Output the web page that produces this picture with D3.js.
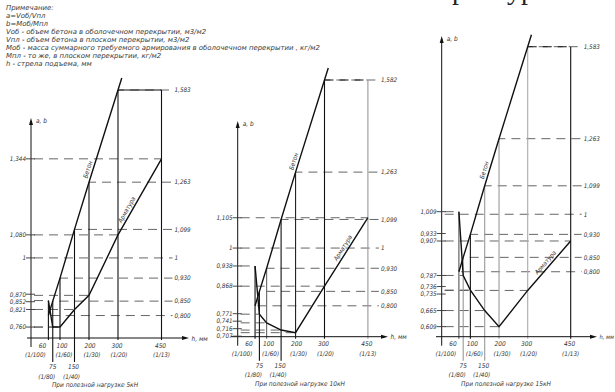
<!DOCTYPE html>
<html><head><meta charset="utf-8">
<script src="https://cdn.jsdelivr.net/npm/d3@7"></script>
<style>
html,body{margin:0;padding:0;background:#fff;}
svg text{font-family:"DejaVu Sans Condensed","DejaVu Sans",sans-serif;font-style:italic;fill:#333;}
</style></head><body>
<svg id="c" width="615" height="392"></svg>
<script>
// ---------- data ----------
const hValues = [60, 75, 100, 150, 200, 300, 450];
const hRatios = ["(1/100)", "(1/80)", "(1/60)", "(1/40)", "(1/30)", "(1/20)", "(1/13)"];
const loadLabels = ["При полезной нагрузке 5кН", "При полезной нагрузке 10кН", "При полезной нагрузке 15кН"];
const seriesNames = ["Бетон", "Арматура"];
// a = Vоб/Vпл (concrete) for h = 60..300
const concrete5  = [0.800, 0.850, 0.930, 1.099, 1.263, 1.583];
const concrete10 = [0.800, 0.850, 0.930, 1.099, 1.263, 1.582];
const concrete15 = [0.800, 0.850, 0.930, 1.099, 1.263, 1.583];
// b = Mоб/Mпл (reinforcement) for h = 60..450
const rebar5  = [0.852, 0.760, 0.760, 0.821, 0.870, 1.080, 1.344];
const rebar10 = [0.938, 0.771, 0.741, 0.716, 0.707, 0.868, 1.105];
const rebar15 = [1.009, 0.787, 0.736, 0.665, 0.609, 0.735, 0.907];
// tick labels
const leftTicks5  = [1.344, 1.080, 1.000, 0.870, 0.852, 0.821, 0.760];
const leftTicks10 = [1.105, 1.000, 0.938, 0.868, 0.771, 0.741, 0.716, 0.707];
const leftTicks15 = [1.009, 0.933, 0.907, 0.787, 0.736, 0.735, 0.665, 0.609];
const rightTicks5  = [1.583, 1.263, 1.099, 1, 0.930, 0.850, 0.800];
const rightTicks10 = [1.582, 1.263, 1.099, 1, 0.930, 0.850, 0.800];
const rightTicks15 = [1.583, 1.263, 1.099, 1, 0.930, 0.850, 0.800];
// value range covered between x-axis and the top reference line
const yDomain5  = [0.722, 1.583];
const yDomain10 = [0.693, 1.582];
const yDomain15 = [0.574, 1.583];
const notes = [
  "Примечание:",
  "a=Vоб/Vпл",
  "b=Mоб/Mпл",
  "Vоб - объем бетона в оболочечном перекрытии, м3/м2",
  "Vпл - объем бетона в плоском перекрытии, м3/м2",
  "Mоб - масса суммарного требуемого армирования в оболочечном перекрытии , кг/м2",
  "Mпл - то же, в плоском перекрытии, кг/м2",
  "h - стрела подъема, мм"
];

// ---------- drawing ----------
const svg = d3.select("#c");
const fmt = v => v === 1 ? "1" : d3.format(".3f")(v).replace(".", ",");

// notes (stretched horizontally like the wide drafting font)
const notesG = svg.append("g");
const noteTexts = notesG.selectAll("text").data(notes).join("text")
  .attr("x", 6).attr("y", (d, i) => 10.5 + i * 8)
  .attr("font-size", 6.8).style("fill", "#3a3a3a").text(d => d);
const maxW = d3.max(noteTexts.nodes(), n => n.getComputedTextLength());
const sx = 314 / maxW;
notesG.attr("transform", `translate(6,0) scale(${sx},1) translate(-6,0)`);

// clipped title fragment at the top
svg.append("text").attr("x", 452).attr("y", -1).attr("font-size", 28)
  .style("font-family", "'Liberation Serif',serif").style("font-style", "normal").style("fill", "#222").text("р");
svg.append("text").attr("x", 507).attr("y", -1).attr("font-size", 28)
  .style("font-family", "'Liberation Serif',serif").style("font-style", "normal").style("fill", "#222").text("ур");

function arrow(g, x, y, dir) {
  const p = dir === "up"
    ? [[x, y], [x - 2, y + 7], [x + 2, y + 7]]
    : [[x, y], [x - 7, y - 2], [x - 7, y + 2]];
  g.append("path").attr("d", d3.line()(p) + "Z").attr("fill", "#111");
}

function panel(cfg) {
  const g = svg.append("g");
  const x = d3.scaleLinear().domain([0, 450]).range([cfg.x0, cfg.x0 + cfg.xw]);
  const y = d3.scaleLinear().domain(cfg.yDomain).range([cfg.axisY, cfg.yTop]);
  const conc = cfg.concrete, reb = cfg.rebar;
  const cap = conc[conc.length - 1];
  const concAt = i => i < conc.length ? conc[i] : cap;
  const rightX = x(450) + 11;
  const dash = "9,6";

  // dashed reference lines (reinforcement, to the left axis)
  reb.forEach((v, i) => {
    g.append("line").attr("x1", cfg.x0 + 3).attr("x2", x(hValues[i])).attr("y1", y(v)).attr("y2", y(v))
      .attr("stroke", "#555").attr("stroke-width", 0.9).attr("stroke-dasharray", dash);
  });
  // dashed reference lines (concrete, to the right labels)
  conc.forEach((v, i) => {
    g.append("line").attr("x1", x(hValues[i])).attr("x2", rightX).attr("y1", y(v)).attr("y2", y(v))
      .attr("stroke", "#555").attr("stroke-width", 0.9).attr("stroke-dasharray", dash)
      .attr("stroke-dashoffset", -(x(hValues[i]) - cfg.x0) % 15);
  });
  // unit line
  g.append("line").attr("x1", cfg.x0 + 3).attr("x2", rightX).attr("y1", y(1)).attr("y2", y(1))
    .attr("stroke", "#555").attr("stroke-width", 0.9).attr("stroke-dasharray", dash);

  // top connector from h=300 to h=450
  g.append("line").attr("x1", x(300)).attr("x2", x(450)).attr("y1", y(cap)).attr("y2", y(cap))
    .attr("stroke", "#111").attr("stroke-width", 1.1).attr("stroke-dasharray", cfg.capSolid ? null : dash);

  // verticals at each h
  hValues.forEach((h, i) => {
    const top = Math.max(concAt(i), reb[i]);
    const ext = (h === 75 || h === 150) ? 24 : 2;
    g.append("line").attr("x1", x(h)).attr("x2", x(h)).attr("y1", y(top)).attr("y2", cfg.axisY + ext)
      .attr("stroke", cfg.vColors[i]).attr("stroke-width", 1.1);
  });

  // axes
  g.append("line").attr("x1", cfg.x0).attr("x2", cfg.x0).attr("y1", cfg.axisY + 9).attr("y2", cfg.yAxisTop + 3)
    .attr("stroke", "#111").attr("stroke-width", 1);
  arrow(g, cfg.x0, cfg.yAxisTop, "up");
  g.append("line").attr("x1", cfg.xAxisStart).attr("x2", cfg.xAxisEnd - 3).attr("y1", cfg.axisY).attr("y2", cfg.axisY)
    .attr("stroke", "#111").attr("stroke-width", 1);
  arrow(g, cfg.xAxisEnd, cfg.axisY, "right");
  g.append("text").attr("x", cfg.x0 + 5).attr("y", cfg.yAxisTop + 5).attr("font-size", 6.5).text("a, b");
  g.append("text").attr("x", cfg.xAxisEnd + 2.5).attr("y", cfg.axisY + 2.5).attr("font-size", cfg.hSize || 6.5).text("h, мм");

  // series lines
  const line = d3.line().x(d => x(d[0])).y(d => y(d[1]));
  const concPts = conc.map((v, i) => [hValues[i], v]);
  const n = concPts.length;
  const last = concPts[n - 1], prev = concPts[n - 2];
  const ext = 0.13;
  const concExt = concPts.concat([[last[0] + (last[0] - prev[0]) * ext, last[1] + (last[1] - prev[1]) * ext]]);
  g.append("path").attr("d", line(concExt)).attr("fill", "none").attr("stroke", "#111").attr("stroke-width", 1.4);
  const rebPts = reb.map((v, i) => [hValues[i], v]);
  g.append("path").attr("d", line(rebPts)).attr("fill", "none").attr("stroke", "#111").attr("stroke-width", 1.4);

  // series labels along segments
  function segLabel(pts, seg, t, txt) {
    const p0 = [x(pts[seg][0]), y(pts[seg][1])], p1 = [x(pts[seg + 1][0]), y(pts[seg + 1][1])];
    const dx = p1[0] - p0[0], dy = p1[1] - p0[1], L = Math.hypot(dx, dy);
    const px = p0[0] + dx * t + (dy / L) * 5, py = p0[1] + dy * t + (-dx / L) * 5;
    const ang = Math.atan2(dy, dx) * 180 / Math.PI;
    g.append("text").attr("transform", `translate(${px},${py}) rotate(${ang})`)
      .attr("text-anchor", "middle").attr("dy", "0.35em").attr("font-size", 6.3).text(txt);
  }
  segLabel(concPts, cfg.concLabel[0], cfg.concLabel[1], seriesNames[0]);
  segLabel(rebPts, cfg.rebLabel[0], cfg.rebLabel[1], seriesNames[1]);

  // left tick labels with simple de-overlapping
  const items = cfg.leftTicks.map(v => ({ v, y: y(v) })).sort((a, b) => a.y - b.y);
  for (let k = 0; k < 40; k++) {
    for (let j = 1; j < items.length; j++) {
      const gap = items[j].y - items[j - 1].y;
      if (gap < 7.5) { const d = (7.5 - gap) / 2; items[j].y += d; items[j - 1].y -= d; }
    }
  }
  items.forEach(it => {
    g.append("line").attr("x1", cfg.x0 - 5).attr("x2", cfg.x0 + 4).attr("y1", it.y).attr("y2", it.y)
      .attr("stroke", "#333").attr("stroke-width", 0.9);
    g.append("text").attr("x", cfg.x0 - 5).attr("y", it.y + 2.3).attr("text-anchor", "end")
      .attr("font-size", 6.3).text(fmt(it.v));
  });
  // right tick labels
  cfg.rightTicks.forEach(v => {
    g.append("text").attr("x", rightX + 2).attr("y", y(v) + 2.3).attr("font-size", 6.3).text(fmt(v));
  });

  // x tick labels
  const upper = { 60: [-6, -13], 100: [2, 4], 200: [1, 3], 300: [-1, 1], 450: [-1, 0] };
  const lower = { 75: [0, -6], 150: [-1, -3] };
  hValues.forEach((h, i) => {
    const u = upper[h], l = lower[h];
    if (u) {
      g.append("text").attr("x", x(h) + u[0]).attr("y", cfg.axisY + 9.5).attr("text-anchor", "middle").attr("font-size", 6.5).text(h);
      g.append("text").attr("x", x(h) + u[1]).attr("y", cfg.axisY + 19).attr("text-anchor", "middle").attr("font-size", 6.3).text(hRatios[i]);
    } else if (l) {
      g.append("text").attr("x", x(h) + l[0]).attr("y", cfg.axisY + 31).attr("text-anchor", "middle").attr("font-size", 6.5).text(h);
      g.append("text").attr("x", x(h) + l[1]).attr("y", cfg.axisY + 40.5).attr("text-anchor", "middle").attr("font-size", 6.3).text(hRatios[i]);
    }
  });
  // caption
  g.append("text").attr("x", cfg.capX).attr("y", cfg.axisY + 49).attr("text-anchor", "middle")
    .attr("font-size", 6.5).text(cfg.caption);
}

panel({
  x0: 31, xw: 130.5, axisY: 338, yTop: 90, yAxisTop: 118, xAxisStart: 27, xAxisEnd: 189,
  yDomain: yDomain5, concrete: concrete5, rebar: rebar5, leftTicks: leftTicks5, rightTicks: rightTicks5,
  vColors: ["#111", "#111", "#111", "#111", "#111", "#111", "#111"], capSolid: true,
  concLabel: [4, 0.12], rebLabel: [5, 0.3], capX: 95, caption: loadLabels[0]
});
panel({
  x0: 237.7, xw: 130.2, axisY: 336.7, yTop: 80, yAxisTop: 121, xAxisStart: 231, xAxisEnd: 388,
  yDomain: yDomain10, concrete: concrete10, rebar: rebar10, leftTicks: leftTicks10, rightTicks: rightTicks10,
  vColors: ["#111", "#111", "#666", "#111", "#222", "#111", "#999"], capSolid: false,
  concLabel: [4, 0.1], rebLabel: [5, 0.52], capX: 300, caption: loadLabels[1]
});
panel({
  x0: 441.7, xw: 129, axisY: 336.7, yTop: 46.7, yAxisTop: 36, xAxisStart: 436, xAxisEnd: 597,
  yDomain: yDomain15, concrete: concrete15, rebar: rebar15, leftTicks: leftTicks15, rightTicks: rightTicks15,
  vColors: ["#555", "#999", "#111", "#999", "#999", "#aaa", "#111"], capSolid: false, hSize: 5.8,
  concLabel: [3, 0.3], rebLabel: [5, 0.5], capX: 506, caption: loadLabels[2]
});
</script>
</body></html>
